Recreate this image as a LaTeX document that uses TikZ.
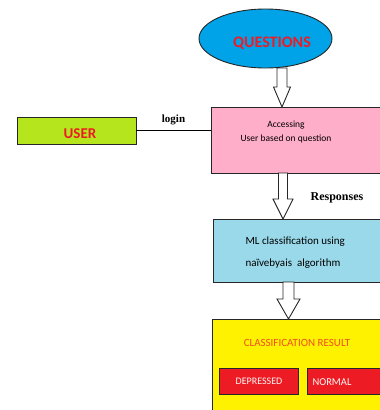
\documentclass[tikz,border=0pt]{standalone}
\usepackage{fontspec}
\setmainfont{Carlito}
\newfontfamily\timesbold{Liberation Serif}[BoldFont={Liberation Serif Bold}]
\usetikzlibrary{shapes.geometric,calc}

\definecolor{qblue}{RGB}{0,162,232}
\definecolor{txtred}{RGB}{237,28,36}
\definecolor{userlime}{RGB}{181,230,29}
\definecolor{accpink}{RGB}{255,174,201}
\definecolor{mlblue}{RGB}{153,217,234}
\definecolor{resyellow}{RGB}{255,242,0}
\definecolor{resorange}{RGB}{240,78,35}

\tikzset{
  box/.style = {draw=black!85, line width=0.9pt, rectangle, inner sep=0pt, outer sep=0pt, anchor=north west},
  blockarrow/.style = {draw=black!85, line width=0.9pt, fill=white, line join=miter},
}

% block arrow from a start point down to an end point
\newcommand{\blockarrow}[4]{% start, end, half shaft, half head
  \draw[blockarrow] let \p1=(#1), \p2=(#2) in
    (\x1-#3,\y1) -- (\x1+#3,\y1) -- (\x1+#3,\y2+20pt) -- (\x1+#4,\y2+20pt)
    -- (\x1,\y2) -- (\x1-#4,\y2+20pt) -- (\x1-#3,\y2+20pt) -- cycle;}

\begin{document}
\begin{tikzpicture}[x=1pt, y=-1pt]
	\useasboundingbox (0,0) rectangle (380,410);
	\clip (0,0) rectangle (380,410);
	% nodes
	\node[draw=black!85, line width=0.9pt, ellipse, fill=qblue, minimum width=133pt, minimum height=59pt, inner sep=0pt, outer sep=0pt] (q) at (265.5,38.5) {};
	\node[text=txtred, font=\fontsize{16}{18}\selectfont\bfseries] (qtxt) at (272,43) {QUESTIONS};
	\node[box, fill=userlime, minimum width=119pt, minimum height=27pt] (user) at (17,117) {};
	\node[text=txtred, font=\fontsize{15}{17}\selectfont\bfseries] (usertxt) at (80,134) {USER};
	\node[box, fill=accpink, minimum width=190pt, minimum height=66pt] (acc) at (211,107) {};
	\node[font=\fontsize{9.5}{14}\selectfont, align=center] (acctxt) at (286,132) {Accessing\\User based on question};
	\node[box, fill=mlblue, minimum width=190pt, minimum height=63pt] (ml) at (213,219) {};
	\node[font=\fontsize{11}{22}\selectfont, align=left, anchor=west] (mltxt) at (242,253) {ML classification using\\na\"ivebyais\ \ algorithm};
	\node[box, fill=resyellow, minimum width=190pt, minimum height=110pt] (res) at (212,319) {};
	\node[text=resorange, font=\fontsize{11}{13}\selectfont] (restxt) at (297,343) {CLASSIFICATION RESULT};
	\node[box, fill=txtred, minimum width=79pt, minimum height=26pt] (dep) at (219,368) {};
	\node[text=white!88!pink, font=\fontsize{10}{12}\selectfont] (deptxt) at (259,381) {DEPRESSED};
	\node[box, fill=txtred, minimum width=90pt, minimum height=26pt] (nor) at (307,368) {};
	\node[text=white!88!pink, font=\fontsize{10.5}{12}\selectfont, anchor=west] (nortxt) at (309,382) {NORMAL};
	% connectors
	\draw[line width=0.9pt] (user.east |- 0,130) -- (acc.west |- 0,130) node[midway, above, font=\fontsize{11}{13}\selectfont\timesbold\bfseries, yshift=1pt] {login};
	\coordinate (a1) at (282,0);
	\coordinate (a2) at (283,0);
	\coordinate (a3) at (288.5,0);
	\blockarrow{a1 |- q.south}{a1 |- acc.north}{5pt}{8.5pt}
	\blockarrow{a2 |- acc.south}{a2 |- ml.north}{4.5pt}{10pt}
	\blockarrow{a3 |- ml.south}{a3 |- res.north}{5.5pt}{11.5pt}
	\node[font=\fontsize{12}{14}\selectfont\timesbold\bfseries] (resp) at (337,198) {Responses};
\end{tikzpicture}
\end{document}
